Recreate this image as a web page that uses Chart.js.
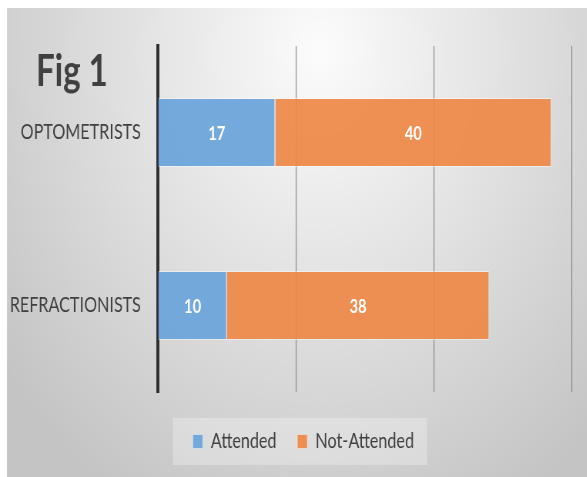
<!DOCTYPE html>
<html>
<head>
<meta charset="utf-8">
<script src="https://cdn.jsdelivr.net/npm/chart.js@4/dist/chart.umd.min.js"></script>
<style>
  html, body { margin: 0; padding: 0; background: #fff; overflow: hidden; }
  /* el original está comprimido en horizontal: se dibuja más ancho y se encoge */
  #wrap { width: 762px; height: 477px; transform: scaleX(0.77); transform-origin: 0 0; }
</style>
</head>
<body>
<div id="wrap"><canvas id="grafico"></canvas></div>
<script>
const categorias = ["OPTOMETRISTS", "REFRACTIONISTS"];
const asistieron = [17, 10];
const noAsistieron = [40, 38];
const nombresSeries = ["Attended", "Not-Attended"];
const marcasX = [0, 20, 40, 60];

const S = 0.77; // factor de compresión horizontal
const fuente = "Lato, 'Open Sans', sans-serif";

// fondo degradado, recuadro de leyenda y título "Fig 1"
const fondo = {
  id: "fondo",
  afterLayout(chart) {
    chart.legend.left += 18;
    chart.legend.right += 18;
  },
  beforeDraw(chart) {
    const ctx = chart.ctx;
    ctx.save();
    const g = ctx.createRadialGradient(320 / S, 50, 0, 320 / S, 50, 520);
    g.addColorStop(0, "#fcfcfc");
    g.addColorStop(1, "#c4c4c4");
    ctx.fillStyle = g;
    ctx.fillRect(7 / S, 8, 580 / S + 2, 469);
    ctx.fillStyle = "rgba(255,255,255,0.28)";
    ctx.fillRect(173 / S, 418, 254 / S, 47);
    ctx.restore();
  },
  afterDraw(chart) {
    const ctx = chart.ctx;
    ctx.save();
    ctx.fillStyle = "#404040";
    ctx.font = "bold 43px " + fuente;
    ctx.textBaseline = "alphabetic";
    ctx.fillText("Fig 1", 36 / S, 86);
    ctx.restore();
  }
};

// etiquetas de valores dentro de las barras
const etiquetas = {
  id: "etiquetas",
  afterDatasetsDraw(chart) {
    const ctx = chart.ctx;
    ctx.save();
    ctx.fillStyle = "#ffffff";
    ctx.font = "bold 19px " + fuente;
    ctx.textAlign = "center";
    ctx.textBaseline = "middle";
    chart.data.datasets.forEach((ds, i) => {
      chart.getDatasetMeta(i).data.forEach((bar, j) => {
        const p = bar.getCenterPoint();
        ctx.fillText(ds.data[j], p.x, p.y + 1);
      });
    });
    ctx.restore();
  }
};

new Chart(document.getElementById("grafico"), {
  type: "bar",
  data: {
    labels: categorias,
    datasets: [
      {
        label: nombresSeries[0],
        data: asistieron,
        backgroundColor: "rgba(106,164,218,0.93)",
        borderColor: "rgba(255,255,255,0.45)",
        borderWidth: 1,
        barPercentage: 0.4,
        categoryPercentage: 1
      },
      {
        label: nombresSeries[1],
        data: noAsistieron,
        backgroundColor: "rgba(238,136,72,0.93)",
        borderColor: "rgba(255,255,255,0.45)",
        borderWidth: 1,
        barPercentage: 0.4,
        categoryPercentage: 1
      }
    ]
  },
  options: {
    indexAxis: "y",
    responsive: true,
    maintainAspectRatio: false,
    animation: false,
    layout: { padding: { left: 9, top: 46, right: 19, bottom: 15 } },
    plugins: {
      legend: {
        position: "bottom",
        labels: {
          font: { family: fuente, size: 21 },
          color: "#404040",
          boxWidth: 13,
          boxHeight: 14,
          padding: 27
        }
      },
      tooltip: { enabled: false }
    },
    scales: {
      x: {
        stacked: true,
        min: 0,
        max: 60,
        afterBuildTicks(scale) {
          scale.ticks = marcasX.map(v => ({ value: v }));
        },
        afterFit(scale) { scale.height = 12; },
        ticks: { display: false },
        grid: { color: "#8a8a8a", lineWidth: 1.2, drawTicks: false },
        border: { display: false }
      },
      y: {
        stacked: true,
        afterFit(scale) { scale.width = 196; },
        ticks: {
          font: { family: fuente, size: 21 },
          color: "#404040",
          padding: 22
        },
        grid: { display: false, drawTicks: false },
        border: { display: true, color: "#2f2f2f", width: 4 }
      }
    }
  },
  plugins: [fondo, etiquetas]
});
</script>
</body>
</html>
